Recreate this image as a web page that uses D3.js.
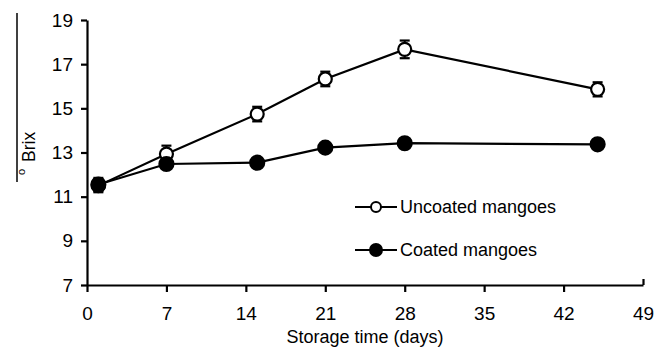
<!DOCTYPE html>
<html>
<head>
<meta charset="utf-8">
<script src="https://cdn.jsdelivr.net/npm/d3@7"></script>
<style>
  body { margin: 0; padding: 0; background: #fff; }
  svg { display: block; font-family: "Liberation Sans", Arial, sans-serif; }
</style>
</head>
<body>
<script>
// data
var days = [1, 7, 15, 21, 28, 45];
var uncoated = [11.5, 12.93, 14.74, 16.33, 17.67, 15.86];
var uncoatedErr = [0.3, 0.38, 0.33, 0.33, 0.4, 0.32];
var coated = [11.55, 12.48, 12.54, 13.22, 13.42, 13.37];
var coatedErr = [0.3, 0.05, 0.05, 0.05, 0.05, 0.1];
var xTicks = [0, 7, 14, 21, 28, 35, 42, 49];
var yTicks = [7, 9, 11, 13, 15, 17, 19];

var width = 665, height = 352;
var svg = d3.select("body").append("svg")
    .attr("width", width)
    .attr("height", height);

var x = d3.scaleLinear().domain([0, 49]).range([87, 643]);
var y = d3.scaleLinear().domain([7, 19]).range([285, 20]);

// axes
var xAxis = svg.append("g")
    .attr("transform", "translate(0," + y(7) + ")")
    .call(d3.axisBottom(x).tickValues(xTicks).tickSize(7).tickPadding(15).tickSizeOuter(0));
var yAxis = svg.append("g")
    .attr("transform", "translate(" + x(0) + ",0)")
    .call(d3.axisLeft(y).tickValues(yTicks).tickSize(6).tickPadding(8).tickSizeOuter(0));

[xAxis, yAxis].forEach(function(a){
    a.select(".domain").attr("stroke", "#000").attr("stroke-width", 2.2);
    a.selectAll(".tick line").attr("stroke", "#000").attr("stroke-width", 2.2);
    a.selectAll(".tick text").attr("fill", "#000").attr("font-size", 19);
});
// last x tick points up in the figure
xAxis.selectAll(".tick").filter(function(d){ return d === 49; })
    .select("line").attr("y2", -6);

// axis titles
svg.append("text")
    .attr("x", (x(0) + x(49)) / 2)
    .attr("y", 343)
    .attr("text-anchor", "middle")
    .attr("font-size", 18)
    .attr("fill", "#000")
    .text("Storage time (days)");

svg.append("line")
    .attr("x1", 17).attr("x2", 17)
    .attr("y1", 13).attr("y2", 182)
    .attr("stroke", "#000").attr("stroke-width", 1.5);

var ylab = svg.append("text")
    .attr("transform", "translate(35,175) rotate(-90)")
    .attr("text-anchor", "start")
    .attr("font-size", 17.5)
    .attr("fill", "#000");
ylab.append("tspan").attr("font-size", 11).attr("dy", -10).text("o");
ylab.append("tspan").attr("dy", 10).attr("dx", 7).text("Brix");

// series
var series = [
    {vals: uncoated, err: uncoatedErr, fill: "#fff", r: 6.5},
    {vals: coated, err: coatedErr, fill: "#000", r: 7}
];

var line = d3.line()
    .x(function(d){ return x(d[0]); })
    .y(function(d){ return y(d[1]); });

series.forEach(function(s){
    var pts = days.map(function(d, i){ return [d, s.vals[i], s.err[i]]; });
    svg.append("path")
        .attr("d", line(pts))
        .attr("fill", "none")
        .attr("stroke", "#000")
        .attr("stroke-width", 2.2);
    var g = svg.append("g");
    pts.forEach(function(p){
        var cx = x(p[0]);
        g.append("line")
            .attr("x1", cx).attr("x2", cx)
            .attr("y1", y(p[1] - p[2])).attr("y2", y(p[1] + p[2]))
            .attr("stroke", "#000").attr("stroke-width", 2);
        [p[1] - p[2], p[1] + p[2]].forEach(function(v){
            g.append("line")
                .attr("x1", cx - 5).attr("x2", cx + 5)
                .attr("y1", y(v)).attr("y2", y(v))
                .attr("stroke", "#000").attr("stroke-width", 2.2);
        });
    });
    g.selectAll("circle")
        .data(pts)
        .enter()
        .append("circle")
        .attr("cx", function(d){ return x(d[0]); })
        .attr("cy", function(d){ return y(d[1]); })
        .attr("r", s.r)
        .attr("fill", s.fill)
        .attr("stroke", "#000")
        .attr("stroke-width", 2.2);
});

// legend
var legend = [
    {label: "Uncoated mangoes", fill: "#fff", r: 5, ly: 207},
    {label: "Coated mangoes", fill: "#000", r: 6, ly: 250}
];
legend.forEach(function(l){
    svg.append("line")
        .attr("x1", 355).attr("x2", 397)
        .attr("y1", l.ly).attr("y2", l.ly)
        .attr("stroke", "#000").attr("stroke-width", 2);
    svg.append("circle")
        .attr("cx", 376).attr("cy", l.ly).attr("r", l.r)
        .attr("fill", l.fill).attr("stroke", "#000").attr("stroke-width", 2);
    svg.append("text")
        .attr("x", 400).attr("y", l.ly + 6)
        .attr("font-size", 18)
        .attr("fill", "#000")
        .text(l.label);
});
</script>
</body>
</html>
